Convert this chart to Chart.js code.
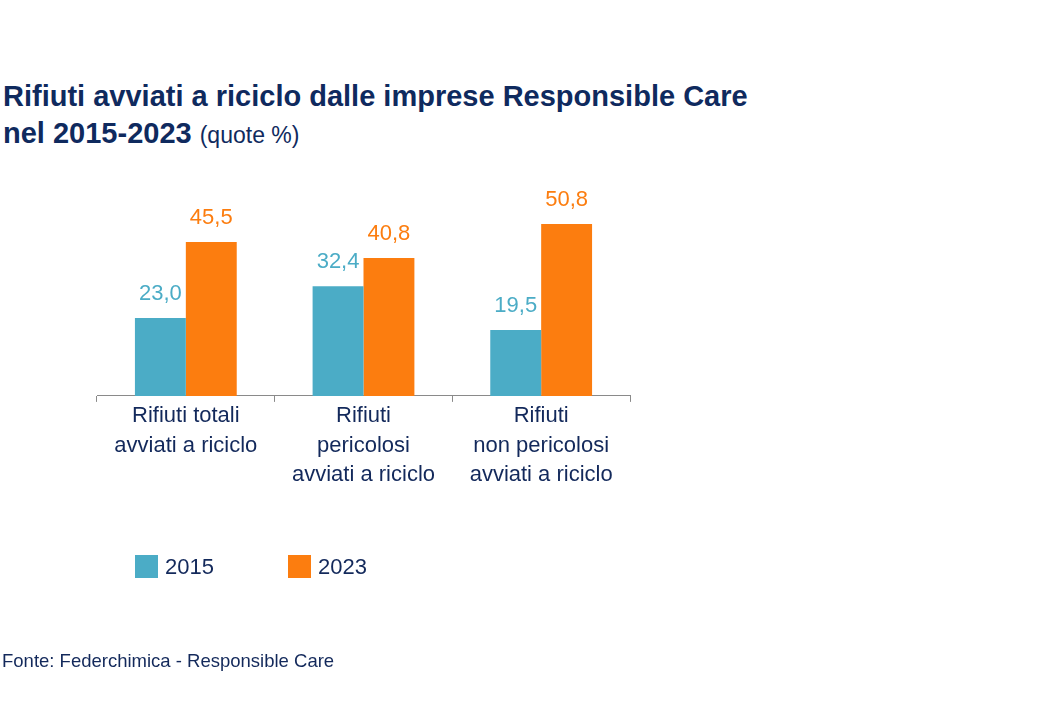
<!DOCTYPE html>
<html lang="it">
<head>
<meta charset="utf-8">
<title>Rifiuti avviati a riciclo</title>
<script src="https://cdn.jsdelivr.net/npm/chart.js@4.4.1/dist/chart.umd.min.js"></script>
<style>
  html, body { margin: 0; padding: 0; background: #fff; }
  body { width: 1040px; height: 720px; position: relative; overflow: hidden;
         font-family: "Liberation Sans", Arial, sans-serif; color: #13295b; }
  #chart { position: absolute; left: 0; top: 0; }
  .title { position: absolute; left: 3px; top: 78px; font-size: 29px; line-height: 37px;
           font-weight: bold; color: #0f2a5e; white-space: nowrap; }
  .title .sub { font-weight: normal; font-size: 23px; }
  .legend { position: absolute; top: 555px; font-size: 22px; line-height: 22px; }
  .legend span.box { position: absolute; left: 0; top: 0; width: 23px; height: 23px; }
  .legend span.txt { position: absolute; left: 30px; top: 1px; white-space: nowrap; }
  .source { position: absolute; left: 2px; top: 652px; font-size: 18.5px; line-height: 18.5px; white-space: nowrap; }
</style>
</head>
<body>
<div class="title">Rifiuti avviati a riciclo dalle imprese Responsible Care<br>nel 2015-2023 <span class="sub">(quote %)</span></div>
<canvas id="chart" width="1040" height="720"></canvas>
<div id="legend"></div>
<div class="source">Fonte: Federchimica - Responsible Care</div>

<script>
// --- data ---
const categories = [
    ['Rifiuti totali', 'avviati a riciclo'],
    ['Rifiuti', 'pericolosi', 'avviati a riciclo'],
    ['Rifiuti', 'non pericolosi', 'avviati a riciclo']
];
const seriesNames = ['2015', '2023'];
const values2015 = [23.0, 32.4, 19.5];
const values2023 = [45.5, 40.8, 50.8];
const seriesColors = ['#4bacc6', '#fc7d0f'];

const textColor = '#13295b';
const fmt = v => v.toFixed(1).replace('.', ',');

// value labels above the bars
const valueLabels = {
    id: 'valueLabels',
    afterDatasetsDraw(chart) {
        const ctx = chart.ctx;
        ctx.save();
        ctx.font = '22px "Liberation Sans", Arial, sans-serif';
        ctx.textAlign = 'center';
        ctx.textBaseline = 'alphabetic';
        chart.data.datasets.forEach((ds, i) => {
            ctx.fillStyle = ds.backgroundColor;
            chart.getDatasetMeta(i).data.forEach((bar, j) => {
                ctx.fillText(fmt(ds.data[j]), bar.x, bar.y - 18);
            });
        });
        ctx.restore();
    }
};

const ctx = document.getElementById('chart').getContext('2d');
const chart = new Chart(ctx, {
    type: 'bar',
    data: {
        labels: categories,
        datasets: [
            { label: seriesNames[0], data: values2015, backgroundColor: seriesColors[0] },
            { label: seriesNames[1], data: values2023, backgroundColor: seriesColors[1] }
        ]
    },
    options: {
        responsive: false,
        animation: false,
        layout: { padding: { left: 97, right: 410, top: 193, bottom: 231 } },
        datasets: { bar: { categoryPercentage: 0.573, barPercentage: 1.0 } },
        scales: {
            x: {
                grid: { display: true, drawOnChartArea: false, drawTicks: true, tickLength: 6, color: '#8a8a8a', offset: true },
                border: { display: true, color: '#8a8a8a', width: 1 },
                ticks: {
                    color: textColor,
                    font: { family: '"Liberation Sans", Arial, sans-serif', size: 22, lineHeight: 1.32 },
                    padding: 0, maxRotation: 0, autoSkip: false
                }
            },
            y: { display: false, min: 0, max: 60 }
        },
        plugins: {
            legend: { display: false },
            tooltip: { enabled: false }
        }
    },
    plugins: [valueLabels]
});

// --- legend ---
const legend = document.getElementById('legend');
const legendX = [135, 288];
seriesNames.forEach((name, i) => {
    const item = document.createElement('div');
    item.className = 'legend';
    item.style.left = legendX[i] + 'px';
    item.innerHTML = '<span class="box" style="background:' + seriesColors[i] + '"></span><span class="txt">' + name + '</span>';
    legend.appendChild(item);
});
</script>
</body>
</html>
